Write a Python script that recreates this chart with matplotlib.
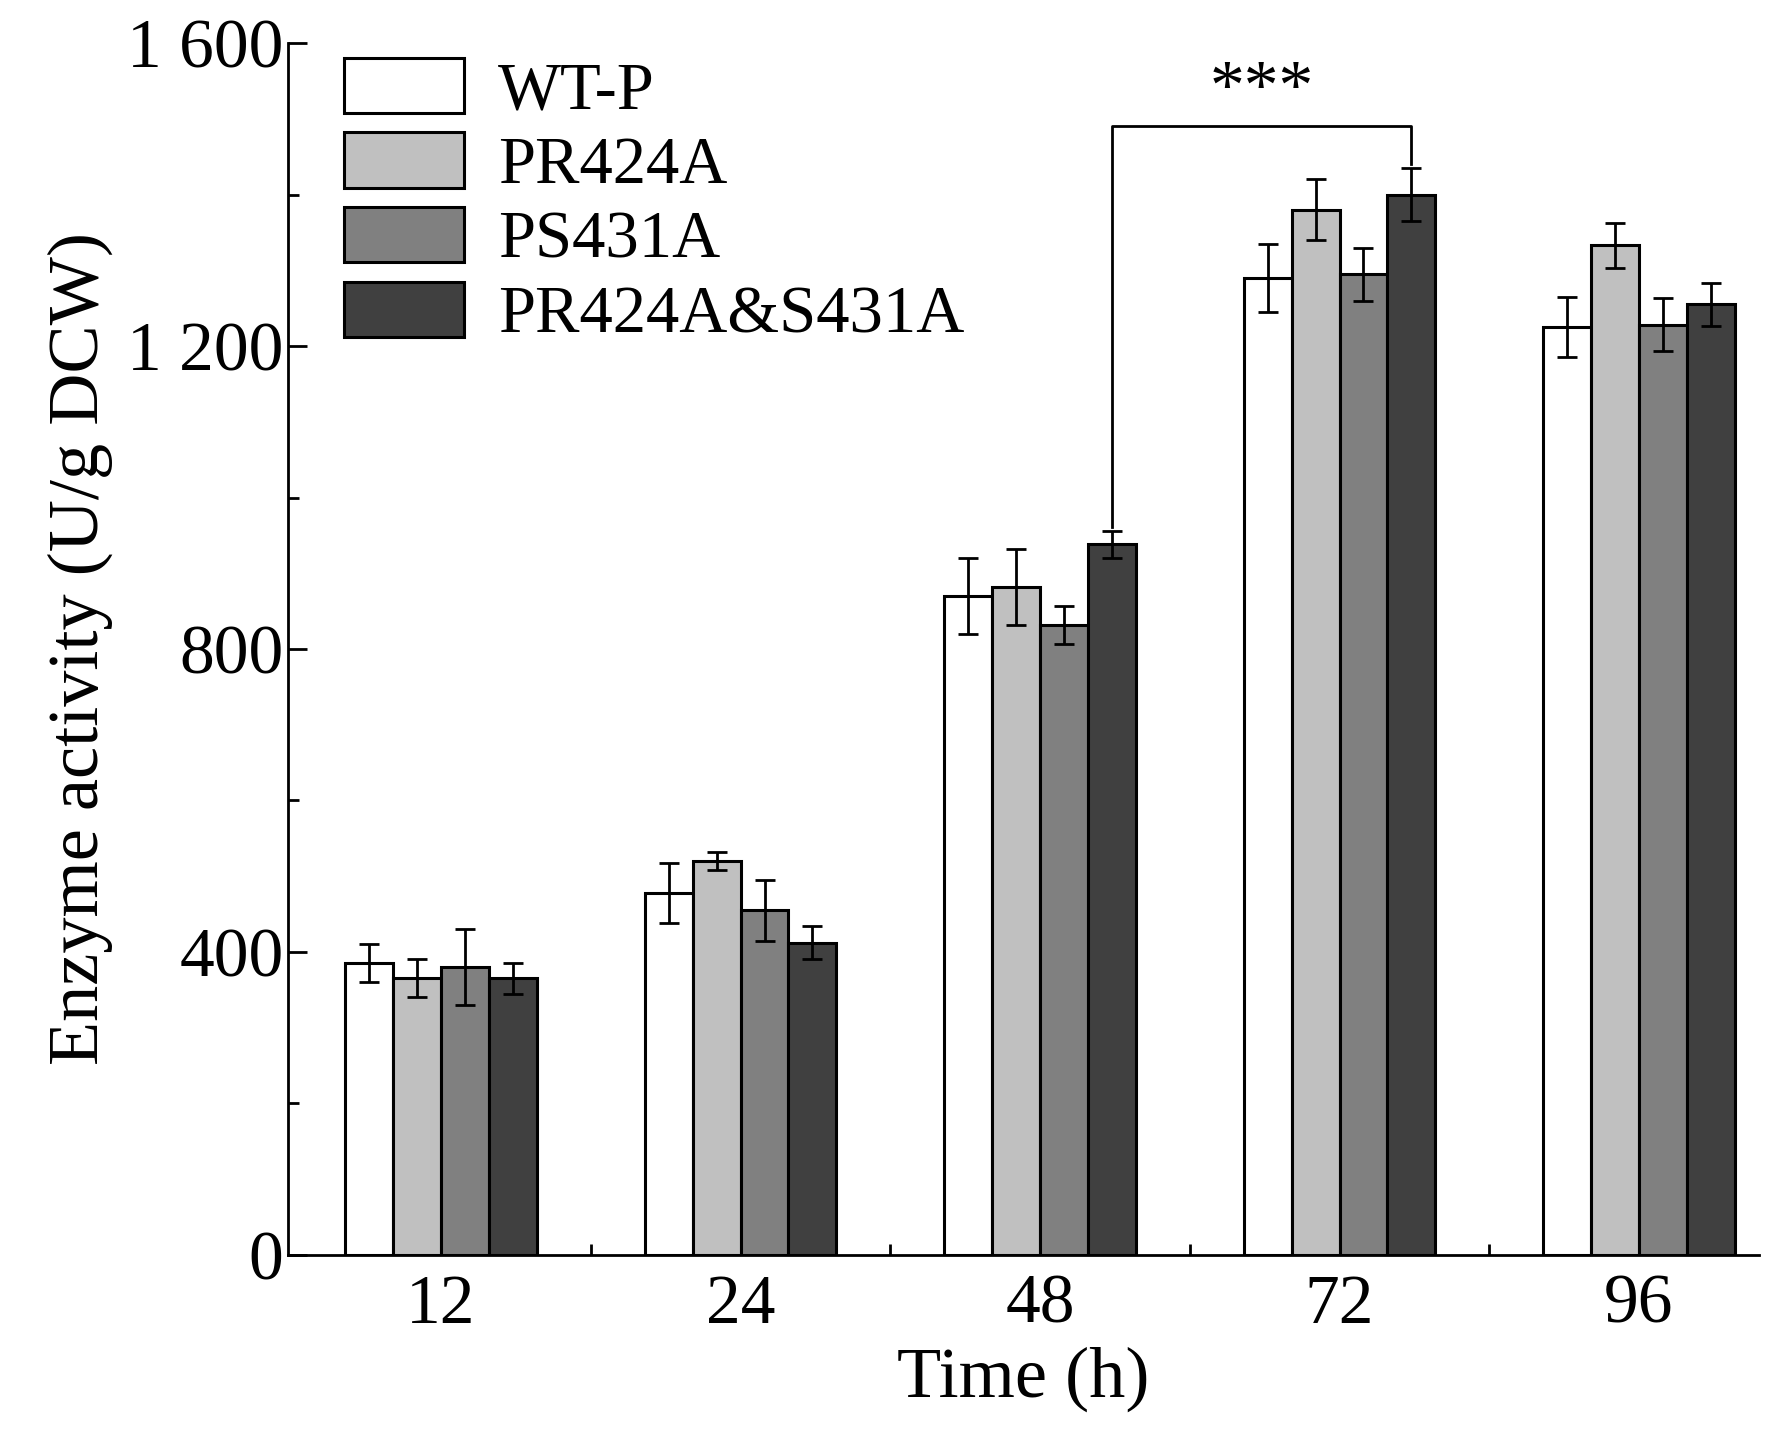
import matplotlib.pyplot as plt
import numpy as np

plt.rcParams['font.family'] = ['Liberation Serif', 'DejaVu Serif']

times = ['12', '24', '48', '72', '96']
series = ['WT-P', 'PR424A', 'PS431A', 'PR424A&S431A']
wt = [385, 478, 870, 1290, 1225]
wt_err = [25, 40, 50, 45, 40]
pr = [365, 520, 882, 1380, 1333]
pr_err = [25, 12, 50, 40, 30]
ps = [380, 455, 832, 1295, 1228]
ps_err = [50, 40, 25, 35, 35]
dbl = [365, 412, 938, 1400, 1255]
dbl_err = [20, 22, 18, 35, 28]
colors = ['white', '#c0c0c0', '#808080', '#404040']
yticks = [0, 400, 800, 1200, 1600]
ytick_labels = ['0', '400', '800', '1 200', '1 600']

fig = plt.figure(figsize=(17.91, 14.39), dpi=100)
ax = fig.add_axes([0.161, 0.128, 0.821, 0.842])

x = np.arange(len(times))
w = 0.16
vals = [wt, pr, ps, dbl]
errs = [wt_err, pr_err, ps_err, dbl_err]
for i in range(4):
    pos = x + (i - 1.5) * w
    ax.bar(pos, vals[i], w, color=colors[i], edgecolor='black', linewidth=2.2,
           label=series[i], zorder=2)
    ax.errorbar(pos, vals[i], yerr=errs[i], fmt='none', ecolor='black',
                elinewidth=2, capsize=7, capthick=2, zorder=3)

# significance bracket between 48 h and 72 h double mutant
x1 = x[2] + 1.5 * w
x2 = x[3] + 1.5 * w
top = 1490
ax.plot([x1, x1, x2, x2], [dbl[2] + dbl_err[2] + 5, top, top, dbl[3] + dbl_err[3] + 5],
        color='black', lw=2, zorder=4)
ax.text((x1 + x2) / 2, top + 5, '***', ha='center', va='bottom', fontsize=50)

ax.set_xlim(-0.51, 4.4)
ax.set_ylim(0, 1600)
ax.set_xticks(x)
ax.set_xticklabels(times)
ax.set_xticks(x[:-1] + 0.5, minor=True)
ax.set_yticks(yticks)
ax.set_yticklabels(ytick_labels)
ax.set_yticks([200, 600, 1000, 1400], minor=True)
ax.tick_params(direction='in', labelsize=50, width=2, length=14)
ax.tick_params(which='minor', direction='in', width=2, length=8)
ax.tick_params(axis='x', pad=14)
for s in ['top', 'right']:
    ax.spines[s].set_visible(False)
for s in ['left', 'bottom']:
    ax.spines[s].set_linewidth(2)

ax.set_xlabel('Time (h)', fontsize=52, labelpad=6)
ax.set_ylabel('Enzyme activity (U/g DCW)', fontsize=52, labelpad=10)
ax.legend(loc='upper left', bbox_to_anchor=(0.02, 1.01), frameon=False, fontsize=48,
          handlelength=1.8, handleheight=0.9, labelspacing=0.15, handletextpad=0.5,
          borderaxespad=0)

fig.savefig('out.png')
